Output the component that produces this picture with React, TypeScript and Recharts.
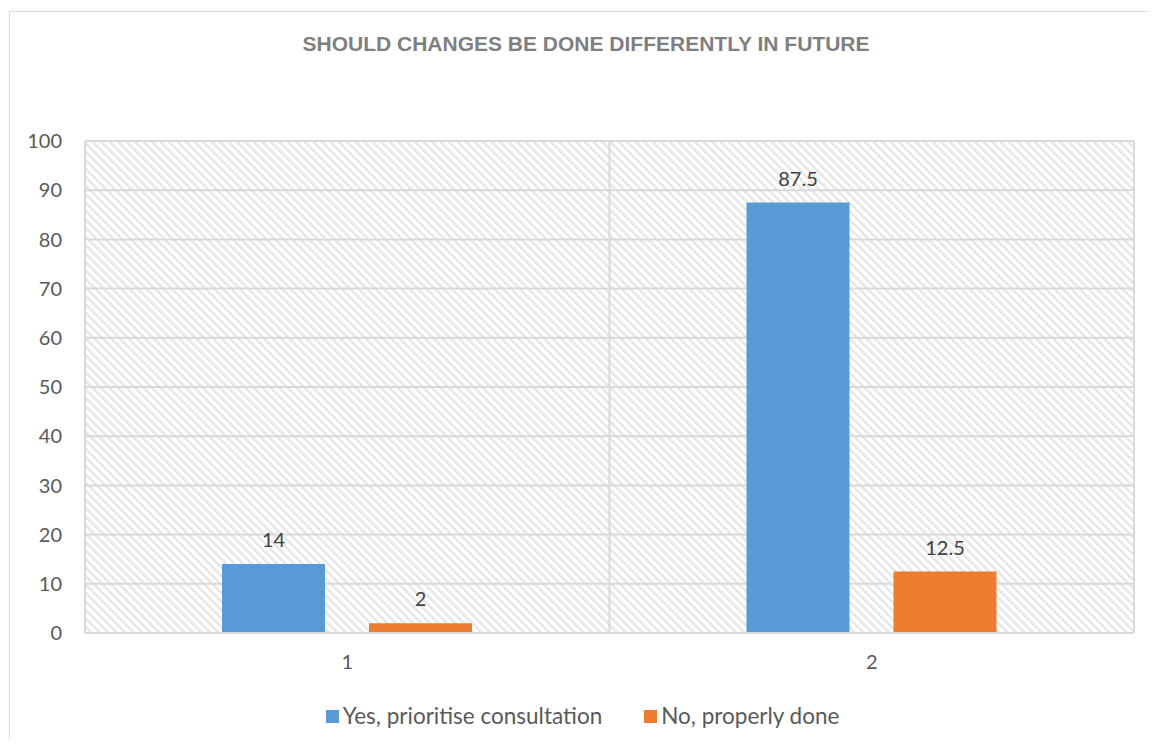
import React from 'react'
import {
  BarChart,
  Bar,
  XAxis,
  YAxis,
  CartesianGrid,
  Legend,
  LabelList
} from 'recharts'

// Survey responses per round
const rounds = ['1', '2']
const yesPrioritise = [14, 87.5]
const noProperlyDone = [2, 12.5]
const yTicks = [0, 10, 20, 30, 40, 50, 60, 70, 80, 90, 100]

const BLUE = '#5b9bd5'
const ORANGE = '#ed7d31'
const GRID = '#d9d9d9'
const TEXT = '#595959'
const FONT = 'Lato, "Open Sans", sans-serif'

const data = rounds.map((r, i) => ({
  round: r,
  yes: yesPrioritise[i],
  no: noProperlyDone[i]
}))

const legendItems = [
  { label: 'Yes, prioritise consultation', color: BLUE },
  { label: 'No, properly done', color: ORANGE }
]

function LegendRow() {
  return (
    <div style={{ display: 'flex', justifyContent: 'center', gap: 42, fontFamily: FONT, fontSize: 22.5, color: TEXT, lineHeight: '26px', paddingLeft: 6 }}>
      {legendItems.map(item => (
        <div key={item.label} style={{ display: 'flex', alignItems: 'center' }}>
          <span style={{ width: 13, height: 13, background: item.color, marginRight: 4, display: 'inline-block' }} />
          <span>{item.label}</span>
        </div>
      ))}
    </div>
  )
}

export default function App() {
  return (
    <div style={{ position: 'relative', width: 1155, height: 747, margin: -8, overflow: 'hidden', background: '#fff' }}>
      {/* shared hatch pattern for the plot background */}
      <svg width={0} height={0} style={{ position: 'absolute' }}>
        <defs>
          <pattern id="hatch" width={6} height={6} patternUnits="userSpaceOnUse" patternTransform="rotate(-45)">
            <rect width={6} height={6} fill="#ffffff" />
            <rect width={2.5} height={6} fill="#e6e6e6" />
          </pattern>
        </defs>
      </svg>

      {/* chart frame */}
      <div style={{ position: 'absolute', left: 9, top: 11, width: 1160, height: 760, border: `1.5px solid ${GRID}`, boxSizing: 'border-box' }} />

      <div style={{ position: 'absolute', left: 0, top: 32, width: 1172, textAlign: 'center', fontFamily: '"Liberation Sans", Arial, sans-serif', fontWeight: 700, fontSize: 21, lineHeight: '24px', color: '#7f7f7f' }}>
        SHOULD CHANGES BE DONE DIFFERENTLY IN FUTURE
      </div>

      <div style={{ position: 'absolute', left: 0, top: 0 }}>
        <BarChart
          width={1155}
          height={747}
          data={data}
          margin={{ top: 141, right: 21, bottom: 0, left: 25 }}
          barCategoryGap="26%"
          barGap={44}
        >
          <CartesianGrid
            stroke={GRID}
            strokeWidth={2}
            fill="url(#hatch)"
            fillOpacity={1}
            verticalPoints={[85, 609.5, 1134]}
          />
          <XAxis
            dataKey="round"
            height={88}
            axisLine={{ stroke: GRID, strokeWidth: 2 }}
            tickLine={false}
            tickSize={0}
            tickMargin={22}
            tick={{ fill: TEXT, fontSize: 20, fontFamily: FONT }}
          />
          <YAxis
            width={60}
            domain={[0, 100]}
            ticks={yTicks}
            axisLine={false}
            tickLine={false}
            tickSize={0}
            tickMargin={23}
            tick={{ fill: TEXT, fontSize: 20, fontFamily: FONT }}
          />
          <Legend
            verticalAlign="bottom"
            wrapperStyle={{ bottom: 18 }}
            content={() => <LegendRow />}
          />
          <Bar dataKey="yes" name="Yes, prioritise consultation" fill={BLUE} barSize={103} isAnimationActive={false}>
            <LabelList dataKey="yes" position="top" offset={17} fill="#404040" fontSize={20} fontFamily={FONT} />
          </Bar>
          <Bar dataKey="no" name="No, properly done" fill={ORANGE} barSize={103} isAnimationActive={false}>
            <LabelList dataKey="no" position="top" offset={17} fill="#404040" fontSize={20} fontFamily={FONT} />
          </Bar>
        </BarChart>
      </div>
    </div>
  )
}
